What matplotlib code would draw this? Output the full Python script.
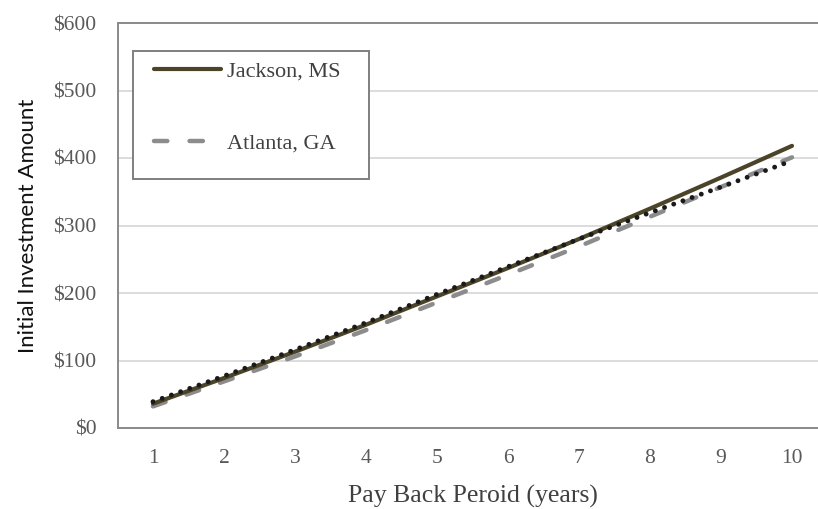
import numpy as np
import matplotlib
matplotlib.use('Agg')
import matplotlib.pyplot as plt
from matplotlib.patches import Rectangle
from matplotlib.ticker import FuncFormatter

years   = [1, 2, 3, 4, 5, 6, 7, 8, 9, 10]
jackson = [36, 74, 113, 153, 195, 237, 280, 325, 371, 418]
atlanta = [32, 69, 106, 145, 186, 227, 269, 313, 357, 401]
trend   = [39, 77, 116, 156, 198, 239, 280, 319, 357, 396]

W, H = 818, 509
fig = plt.figure(figsize=(W / 100, H / 100), dpi=100)

# axes box in pixels: left 116, top 23, bottom 428; category axis runs past the right edge
x0, x1, yt, yb = 117.5, 827.5, 23, 428
ax = fig.add_axes([x0 / W, 1 - yb / H, (x1 - x0) / W, (yb - yt) / H])

serif = 'Liberation Serif'
tick_col = '#595959'

ax.plot(years, atlanta, color='#8c8c8c', lw=3.2, linestyle=(0, (3.0, 5.0)),
        dash_capstyle='round', zorder=3, label='Atlanta, GA')
ax.plot(years, jackson, color='#4b4428', lw=3.0, solid_capstyle='round',
        zorder=4, label='Jackson, MS')
ax.plot(years, trend, color='#1a1a1a', lw=3.5, linestyle=(0, (0.01, 2.0)),
        dash_capstyle='round', zorder=5)

ax.set_xlim(0.5, 10.5)
ax.set_ylim(0, 600)
ax.set_xticks(years)
ax.set_yticks(np.arange(0, 601, 100))
ax.yaxis.set_major_formatter(FuncFormatter(lambda v, p: f'${v:.0f}'))
ax.tick_params(length=0, labelsize=15.5, labelcolor=tick_col)
ax.tick_params(axis='y', pad=15)
ax.tick_params(axis='x', pad=15)
for lab in ax.get_xticklabels() + ax.get_yticklabels():
    lab.set_family(serif)

ax.grid(axis='y', color='#d9d9d9', lw=1.3, zorder=0)
ax.set_axisbelow(True)
for s in ['left', 'top', 'bottom']:
    ax.spines[s].set_color('#8a8a8a')
    ax.spines[s].set_linewidth(1.4)
ax.spines['right'].set_visible(False)

ax.set_xlabel('Pay Back Peroid (years)', family=serif, fontsize=18.5,
              color='#404040', labelpad=12)
ax.set_ylabel('Initial Investment Amount', family='Lato', fontsize=16,
              color='#111111', labelpad=11)

# legend frame drawn separately so it can be larger than its contents
box = Rectangle((133 / W, 1 - 179 / H), 236 / W, 128 / H, transform=fig.transFigure,
                facecolor='white', edgecolor='#7f7f7f', lw=1.4, zorder=6)
fig.add_artist(box)

handles, labels = ax.get_legend_handles_labels()
leg = fig.legend(handles[::-1], labels[::-1], loc='upper left',
                 bbox_to_anchor=(143 / W, 1 - 50 / H), frameon=False,
                 borderpad=0, handlelength=3.0, handletextpad=0.3,
                 labelspacing=2.3, prop={'family': serif, 'size': 16})
leg.set_zorder(7)
for t in leg.get_texts():
    t.set_color('#404040')

fig.savefig('out.png', dpi=100)
